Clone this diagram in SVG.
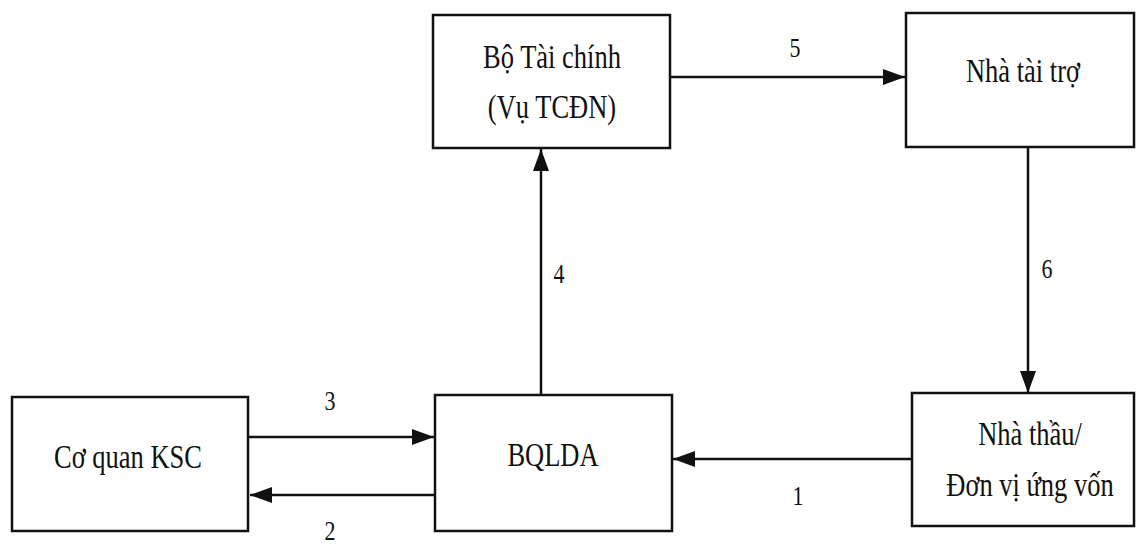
<svg xmlns="http://www.w3.org/2000/svg" width="1138" height="545" viewBox="0 0 1138 545">
  <style>
    .box { fill: #fff; stroke: #111; stroke-width: 2.5; }
    .lbl { font-family: "Liberation Serif", "Times New Roman", "DejaVu Serif", serif; font-size: 26.5px; fill: #111; text-anchor: middle; }
    .num { font-family: "Liberation Serif", "Times New Roman", "DejaVu Serif", serif; font-size: 22px; fill: #111; text-anchor: middle; }
    .edge { stroke: #111; stroke-width: 2.5; fill: none; marker-end: url(#arrow); }
  </style>
  <defs>
    <marker id="arrow" markerUnits="userSpaceOnUse" markerWidth="24" markerHeight="18" refX="22" refY="8" orient="auto">
      <path d="M0,0 L22,8 L0,16 Z" fill="#111"/>
    </marker>
  </defs>
  <rect width="1138" height="545" fill="#fff"/>

  <g id="connectors">
    <line class="edge" x1="670" y1="77" x2="905" y2="77"/>
    <line class="edge" x1="1028" y1="147" x2="1028" y2="393"/>
    <line class="edge" x1="912" y1="459" x2="673" y2="459"/>
    <line class="edge" x1="435" y1="495" x2="250" y2="495"/>
    <line class="edge" x1="248" y1="437" x2="434" y2="437"/>
    <line class="edge" x1="541" y1="395" x2="541" y2="149"/>
    <text class="num" transform="translate(795,57) scale(1,1.2)">5</text>
    <text class="num" transform="translate(1047,278) scale(1,1.2)">6</text>
    <text class="num" transform="translate(798,505) scale(1,1.2)">1</text>
    <text class="num" transform="translate(330,540) scale(1,1.2)">2</text>
    <text class="num" transform="translate(330,410) scale(1,1.2)">3</text>
    <text class="num" transform="translate(559,283) scale(1,1.2)">4</text>
  </g>

  <g id="node-btc">
    <rect class="box" x="433" y="15" width="237" height="133"/>
    <text class="lbl" transform="translate(552,68) scale(1,1.28)">Bộ Tài chính</text>
    <text class="lbl" transform="translate(552,118) scale(1,1.28)">(Vụ TCĐN)</text>
  </g>

  <g id="node-ntt">
    <rect class="box" x="906" y="13" width="228" height="134"/>
    <text class="lbl" transform="translate(1023,82) scale(1,1.28)">Nhà tài trợ</text>
  </g>

  <g id="node-ksc">
    <rect class="box" x="12" y="397" width="236" height="134"/>
    <text class="lbl" transform="translate(128,468) scale(1,1.28)">Cơ quan KSC</text>
  </g>

  <g id="node-bqlda">
    <rect class="box" x="435" y="395" width="237" height="136"/>
    <text class="lbl" transform="translate(553,466) scale(1,1.28)">BQLDA</text>
  </g>

  <g id="node-nhathau">
    <rect class="box" x="912" y="393" width="222" height="133"/>
    <text class="lbl" transform="translate(1030,445) scale(1,1.28)">Nhà thầu/</text>
    <text class="lbl" transform="translate(1030,496) scale(1,1.28)">Đơn vị ứng vốn</text>
  </g>
</svg>
